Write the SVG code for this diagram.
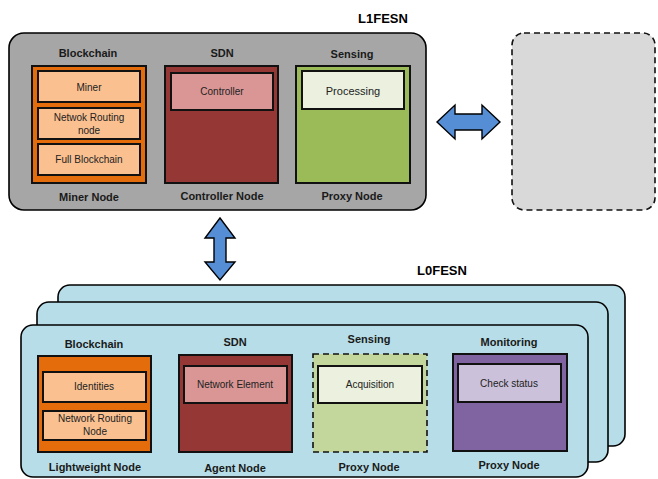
<svg xmlns="http://www.w3.org/2000/svg" width="658" height="479" viewBox="0 0 658 479">
  <style>
    .title { font-family: "Liberation Sans", Arial, sans-serif; font-weight: bold; font-size: 13px; fill: #000; text-anchor: middle; }
    .lbl { font-family: "Liberation Sans", Arial, sans-serif; font-weight: bold; font-size: 11px; fill: #1a1a1a; text-anchor: middle; }
    .in { font-family: "Liberation Sans", Arial, sans-serif; font-size: 10px; fill: #222; text-anchor: middle; }
    .frame { stroke: #000; stroke-width: 1.6; }
    .box { stroke: #111; stroke-width: 2; }
    .dash { stroke: #111; stroke-width: 1.6; stroke-dasharray: 6 4; }
    .arrow { fill: #558ed5; stroke: #000; stroke-width: 1.4; stroke-linejoin: miter; }
  </style>

  <!-- Upper tier: L1FESN -->
  <text class="title" x="383" y="23">L1FESN</text>
  <g id="l1fesn">
    <rect class="frame" x="9" y="33" width="417" height="177" rx="15" fill="#a6a6a6"/>
  </g>

  <g id="l1-miner-node">
    <text class="lbl" x="88" y="57">Blockchain</text>
    <rect class="box" x="32" y="66" width="114" height="117" fill="#e46c0a"/>
    <rect class="box" x="38" y="71" width="102" height="31" fill="#fac090"/>
    <text class="in" x="89" y="91">Miner</text>
    <rect class="box" x="38" y="108" width="102" height="31" fill="#fac090"/>
    <text class="in" x="89" y="121">Netwok Routing</text>
    <text class="in" x="89" y="134">node</text>
    <rect class="box" x="38" y="144" width="102" height="31" fill="#fac090"/>
    <text class="in" x="89" y="163">Full Blockchain</text>
    <text class="lbl" x="89" y="201">Miner Node</text>
  </g>

  <g id="l1-controller-node">
    <text class="lbl" x="222" y="57">SDN</text>
    <rect class="box" x="165" y="66" width="113" height="117" fill="#953735"/>
    <rect class="box" x="171" y="73" width="102" height="37" fill="#d99694"/>
    <text class="in" x="222" y="95">Controller</text>
    <text class="lbl" x="222" y="200">Controller Node</text>
  </g>

  <g id="l1-proxy-node">
    <text class="lbl" x="352" y="58">Sensing</text>
    <rect class="box" x="296" y="66" width="114" height="117" fill="#9bbb59"/>
    <rect class="box" x="302" y="71" width="102" height="38" fill="#ebf1de"/>
    <text class="in" x="353" y="95" style="font-size:11px">Processing</text>
    <text class="lbl" x="352" y="200">Proxy Node</text>
  </g>

  <g id="peer-tier">
    <rect class="dash" x="512" y="33" width="143" height="177" rx="12" fill="#d9d9d9"/>
  </g>

  <!-- Lower tier: L0FESN, stacked instances -->
  <text class="title" x="442" y="275">L0FESN</text>
  <g id="l0fesn">
    <rect class="frame" x="58" y="285" width="567" height="161" rx="12" fill="#b7dee8"/>
    <rect class="frame" x="37" y="302" width="571" height="160" rx="12" fill="#b7dee8"/>
    <rect class="frame" x="21" y="325" width="567" height="152" rx="12" fill="#b7dee8"/>
  </g>

  <g id="l0-lightweight-node">
    <text class="lbl" x="94" y="348">Blockchain</text>
    <rect class="box" x="38" y="356" width="113" height="96" fill="#e46c0a"/>
    <rect class="box" x="43" y="372" width="103" height="30" fill="#fac090"/>
    <text class="in" x="94" y="390">Identities</text>
    <rect class="box" x="43" y="411" width="103" height="29" fill="#fac090"/>
    <text class="in" x="95" y="422">Network Routing</text>
    <text class="in" x="95" y="435">Node</text>
    <text class="lbl" x="95" y="471">Lightweight Node</text>
  </g>

  <g id="l0-agent-node">
    <text class="lbl" x="235" y="346">SDN</text>
    <rect class="box" x="179" y="355" width="113" height="97" fill="#953735"/>
    <rect class="box" x="184" y="366" width="103" height="37" fill="#d99694"/>
    <text class="in" x="235" y="388">Network Element</text>
    <text class="lbl" x="235" y="472">Agent Node</text>
  </g>

  <g id="l0-sensing-proxy-node">
    <text class="lbl" x="369" y="343">Sensing</text>
    <rect class="dash" x="313" y="354" width="114" height="98" fill="#c3d69b"/>
    <rect class="box" x="318" y="366" width="104" height="37" fill="#ebf1de"/>
    <text class="in" x="370" y="388">Acquisition</text>
    <text class="lbl" x="369" y="471">Proxy Node</text>
  </g>

  <g id="l0-monitoring-proxy-node">
    <text class="lbl" x="509" y="346">Monitoring</text>
    <rect class="box" x="453" y="354" width="114" height="97" fill="#8064a2"/>
    <rect class="box" x="458" y="364" width="103" height="38" fill="#ccc1da"/>
    <text class="in" x="509" y="387">Check status</text>
    <text class="lbl" x="509" y="469">Proxy Node</text>
  </g>

  <!-- Block arrows linking the tiers -->
  <g id="connectors">
    <polygon class="arrow" points="437,122 455,105 455,114 482,114 482,105 500,122 482,139 482,130 455,130 455,139"/>
    <polygon class="arrow" points="220,218 235,238 226,238 226,262 235,262 220,280 205,262 214,262 214,238 205,238"/>
  </g>
</svg>
